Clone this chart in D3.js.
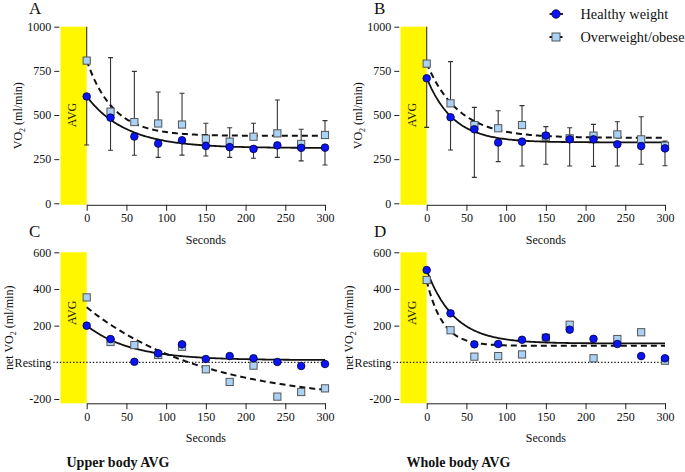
<!DOCTYPE html>
<html>
<head>
<meta charset="utf-8">
<script src="https://cdn.jsdelivr.net/npm/d3@7/dist/d3.min.js"></script>
<style>
  html, body { margin: 0; padding: 0; background: #fff; }
  svg text { font-family: 'Liberation Serif', 'Times New Roman', Times, 'DejaVu Serif', serif !important; }
</style>
</head>
<body>
<svg id="chart" width="685" height="472" font-family="Liberation Serif, Times New Roman, serif"></svg>
<script>
// ---------------- DATA ----------------
const seconds = [0, 30, 60, 90, 120, 150, 180, 210, 240, 270, 300];
const xTicks = [0, 50, 100, 150, 200, 250, 300];
const yTicksAbs = [0, 250, 500, 750, 1000];
const yTicksNet = [-200, 0, 200, 400, 600];
const yTickLabelsNet = ["-200", "Resting", "200", "400", "600"];
const seriesNames = ["Healthy weight", "Overweight/obese"];

// Panel A: Upper body AVG, absolute VO2 (ml/min)
const aHealthy = [605, 485, 378, 338, 357, 325, 318, 308, 328, 314, 315];
const aHealthySD = [275, 185, 106, 78, 84, 57, 58, 53, 68, 74, 98];
const aOver = [808, 519, 460, 452, 446, 366, 349, 377, 396, 336, 387];
const aOverSD = [300, 306, 287, 178, 177, 87, 79, 76, 189, 83, 81];
// Panel B: Whole body AVG, absolute VO2
const bHealthy = [708, 487, 419, 344, 349, 384, 362, 362, 334, 324, 311];
const bHealthySD = [278, 185, 272, 108, 138, 163, 151, 153, 123, 103, 98];
const bOver = [791, 566, 443, 425, 443, 377, 368, 383, 390, 362, 326];
const bOverSD = [260, 236, 100, 99, 110, 57, 60, 64, 72, 128, 26];
// Panel C: Upper body AVG, net VO2
const cHealthy = [200, 127, 3, 49, 98, 18, 34, 22, 2, -20, -9];
const cOver = [354, 111, 94, 40, 85, -38, -107, -18, -187, -162, -142];
// Panel D: Whole body AVG, net VO2
const dHealthy = [503, 267, 98, 100, 123, 136, 178, 128, 100, 34, 22];
const dOver = [449, 175, 31, 34, 43, 134, 205, 22, 127, 164, 9];

// One-phase decay fits [Y0, Plateau, K]
const fitAHealthy = [605, 313, 0.02];
const fitAOver = [808, 382, 0.03];
const fitBHealthy = [710, 345, 0.03];
const fitBOver = [792, 371, 0.025];
const fitCHealthy = [200, 12, 0.018];
const fitCOver = [300, -220, 0.0067];
const fitDHealthy = [503, 103, 0.029];
const fitDOver = [445, 90, 0.05];

// ---------------- DRAWING ----------------
const FONT = "Liberation Serif, Times New Roman, serif";
const svg = d3.select("#chart");
const YELLOW = "#fff700";
const BLUE = "#0a14f5";
const LIGHT = "#a9d2f6";

function txt(sel) { return sel.attr("font-family", FONT); }

function panel(o) {
  const x = d3.scaleLinear().domain([0, 300]).range([86.7 + o.dx, 325 + o.dx]);
  const y = d3.scaleLinear().domain(o.yDomain).range(o.yRange);
  const g = svg.append("g");
  const axisY = y(o.yDomain[0]) + o.axisOffset;
  const yAxisX = x(-34.5);

  // yellow AVG band
  g.append("rect")
    .attr("x", x(-33)).attr("width", x(0) - x(-33))
    .attr("y", y(o.yDomain[1])).attr("height", axisY - y(o.yDomain[1]))
    .attr("fill", YELLOW);
  txt(g.append("text"))
    .attr("transform", `translate(${x(-13.5)},${y(o.avgAt)}) rotate(-90)`)
    .attr("text-anchor", "middle").attr("font-size", 12).attr("fill", "#222")
    .text("AVG");

  // x axis
  const xa = g.append("g").attr("transform", `translate(0,${axisY})`)
    .call(d3.axisBottom(x).tickValues(xTicks).tickSize(6).tickSizeOuter(0).tickPadding(3));
  xa.attr("font-family", FONT).attr("font-size", 12);
  xa.selectAll("text").attr("fill", "#111");
  xa.selectAll("path, line").attr("stroke", "#222");

  // y axis (ticks only)
  const ya = g.append("g").attr("transform", `translate(${yAxisX},0)`)
    .call(d3.axisLeft(y).tickValues(o.yTicks).tickSize(5).tickPadding(3)
      .tickFormat((d, i) => o.yLabels[i]));
  ya.attr("font-family", FONT).attr("font-size", 12);
  ya.select(".domain").remove();
  ya.selectAll("text").attr("fill", "#111");
  ya.selectAll("line").attr("stroke", "#222");
  if (o.resting) {
    ya.selectAll(".tick").filter(d => d === 0).select("line").remove();
    g.append("line")
      .attr("x1", yAxisX - 6).attr("x2", x(300))
      .attr("y1", y(0)).attr("y2", y(0))
      .attr("stroke", "#111").attr("stroke-width", 1.3)
      .attr("stroke-dasharray", "1.3,2");
  }

  // axis titles
  txt(g.append("text"))
    .attr("x", x(150)).attr("y", axisY + 39)
    .attr("text-anchor", "middle").attr("font-size", 12).attr("fill", "#111")
    .text("Seconds");
  const yt = txt(g.append("text"))
    .attr("transform", `translate(${o.titleX + o.dx},${(y(o.yDomain[1]) + axisY) / 2}) rotate(-90)`)
    .attr("text-anchor", "middle").attr("font-size", 12).attr("fill", "#111");
  yt.append("tspan").text(o.resting ? "net VO" : "VO");
  yt.append("tspan").attr("font-size", 8).attr("dy", 3).text("2");
  yt.append("tspan").attr("dy", -3).text(" (ml/min)");

  // panel letter
  txt(g.append("text")).attr("x", o.letterX).attr("y", o.letterY)
    .attr("font-size", 17).attr("fill", "#111").text(o.letter);

  // clip for error bars / curves
  const clipId = "clip" + o.letter;
  svg.append("clipPath").attr("id", clipId).append("rect")
    .attr("x", x(-40)).attr("width", x(340) - x(-40))
    .attr("y", y(o.yDomain[1])).attr("height", axisY - y(o.yDomain[1]) + 10);
  const plot = g.append("g").attr("clip-path", `url(#${clipId})`);

  // error bars: overweight upward, healthy downward
  function bars(vals, sds, dir) {
    if (!sds) return;
    const gb = plot.append("g").attr("stroke", "#333").attr("stroke-width", 1.1);
    seconds.forEach((s, i) => {
      const end = vals[i] + dir * sds[i];
      gb.append("line").attr("x1", x(s)).attr("x2", x(s))
        .attr("y1", y(vals[i])).attr("y2", y(end));
      gb.append("line").attr("x1", x(s) - 2.5).attr("x2", x(s) + 2.5)
        .attr("y1", y(end)).attr("y2", y(end));
    });
  }
  bars(o.over, o.overSD, 1);
  bars(o.healthy, o.healthySD, -1);

  // fitted curves
  const fitLine = f => d3.line()
    .x(t => x(t))
    .y(t => y(f[1] + (f[0] - f[1]) * Math.exp(-f[2] * t)))(d3.range(0, 301, 2));
  plot.append("path").attr("d", fitLine(o.fitOver))
    .attr("fill", "none").attr("stroke", "#111").attr("stroke-width", 2)
    .attr("stroke-dasharray", "6,4");
  plot.append("path").attr("d", fitLine(o.fitHealthy))
    .attr("fill", "none").attr("stroke", "#111").attr("stroke-width", 1.8);

  // markers
  g.append("g").selectAll("rect").data(o.over).join("rect")
    .attr("x", (d, i) => x(seconds[i]) - 3.6).attr("y", d => y(d) - 3.6)
    .attr("width", 7.2).attr("height", 7.2)
    .attr("fill", LIGHT).attr("stroke", "#555").attr("stroke-width", 1);
  g.append("g").selectAll("circle").data(o.healthy).join("circle")
    .attr("cx", (d, i) => x(seconds[i])).attr("cy", d => y(d)).attr("r", 3.8)
    .attr("fill", BLUE).attr("stroke", "#00003a").attr("stroke-width", 0.8);
}

const absDomain = [0, 1000], absRange = [203.3, 26.7];
const netDomain = [-200, 600], netRange = [399, 252.3];

panel({ letter: "A", letterX: 29, letterY: 14, dx: 0, yDomain: absDomain, yRange: absRange,
  axisOffset: 1.5, yTicks: yTicksAbs, yLabels: yTicksAbs.map(String), resting: false, avgAt: 500,
  titleX: 21.5, healthy: aHealthy, healthySD: aHealthySD, over: aOver, overSD: aOverSD,
  fitHealthy: fitAHealthy, fitOver: fitAOver });
panel({ letter: "B", letterX: 374, letterY: 14, dx: 340, yDomain: absDomain, yRange: absRange,
  axisOffset: 1.5, yTicks: yTicksAbs, yLabels: yTicksAbs.map(String), resting: false, avgAt: 500,
  titleX: 21.5, healthy: bHealthy, healthySD: bHealthySD, over: bOver, overSD: bOverSD,
  fitHealthy: fitBHealthy, fitOver: fitBOver });
panel({ letter: "C", letterX: 29, letterY: 237, dx: 0, yDomain: netDomain, yRange: netRange,
  axisOffset: 4.3, yTicks: yTicksNet, yLabels: yTickLabelsNet, resting: true, avgAt: 270,
  titleX: 13, healthy: cHealthy, over: cOver, fitHealthy: fitCHealthy, fitOver: fitCOver });
panel({ letter: "D", letterX: 374, letterY: 237, dx: 340, yDomain: netDomain, yRange: netRange,
  axisOffset: 4.3, yTicks: yTicksNet, yLabels: yTickLabelsNet, resting: true, avgAt: 270,
  titleX: 13, healthy: dHealthy, over: dOver, fitHealthy: fitDHealthy, fitOver: fitDOver });

// bottom captions
txt(svg.append("text")).attr("x", 66.5).attr("y", 467).attr("font-size", 14).attr("font-weight", "bold")
  .attr("fill", "#111").text("Upper body AVG");
txt(svg.append("text")).attr("x", 406.5).attr("y", 467).attr("font-size", 14).attr("font-weight", "bold")
  .attr("fill", "#111").text("Whole body AVG");

// legend
const legend = svg.append("g");
const legRows = [14, 37];
seriesNames.forEach((name, i) => {
  const ly = legRows[i];
  legend.append("line").attr("x1", 549.5).attr("x2", 563).attr("y1", ly).attr("y2", ly)
    .attr("stroke", "#111").attr("stroke-width", 1.8)
    .attr("stroke-dasharray", i === 1 ? "3,2" : null);
  if (i === 0) {
    legend.append("circle").attr("cx", 556).attr("cy", ly).attr("r", 4.2)
      .attr("fill", BLUE).attr("stroke", "#00003a").attr("stroke-width", 0.8);
  } else {
    legend.append("rect").attr("x", 552).attr("y", ly - 4).attr("width", 8).attr("height", 8)
      .attr("fill", LIGHT).attr("stroke", "#555").attr("stroke-width", 1);
  }
  txt(legend.append("text")).attr("x", 580.5).attr("y", ly + 5).attr("font-size", 14.3)
    .attr("fill", "#111").text(name);
});
</script>
</body>
</html>
